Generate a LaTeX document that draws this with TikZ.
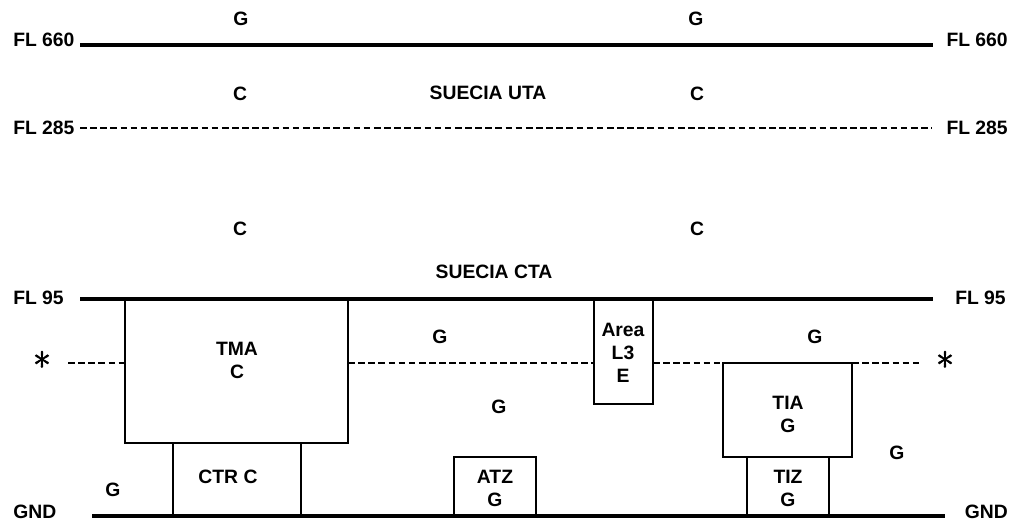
\documentclass[tikz,border=0pt]{standalone}
\usepackage{fontspec}
\setmainfont{Liberation Sans}
\newfontfamily\astfont[FakeBold=2.5]{Latin Modern Roman}
\tikzset{
  lvl/.style={line width=2.6pt},
  lvldash/.style={line width=0.9pt, dash pattern=on 5pt off 2.6pt},
  zone/.style={draw, line width=1.1pt},
  lab/.style={font=\bfseries\fontsize{14.5}{17.25}\selectfont, align=center, inner sep=0pt},
  star/.style={font=\astfont\fontsize{28}{30}\selectfont, inner sep=0pt, anchor=north},
}

\begin{document}
\begin{tikzpicture}[x=0.75pt,y=-0.75pt]
\useasboundingbox (0,0) rectangle (1012,521);

% flight levels
\node[lab, anchor=west] (fl660l) at (13,40) {FL 660};
\node[lab, anchor=east] (fl660r) at (1008,40) {FL 660};
\node[lab, anchor=west] (fl285l) at (13,128) {FL 285};
\node[lab, anchor=east] (fl285r) at (1008,128) {FL 285};
\node[lab, anchor=west] (fl95l) at (13,298) {FL 95};
\node[lab, anchor=east] (fl95r) at (1006,298) {FL 95};
\node[lab, anchor=west] (gndl) at (13,512) {GND};
\node[lab, anchor=east] (gndr) at (1008,512) {GND};
\node[star] (astl) at (42,351) {*};
\node[star] (astr) at (945,351) {*};

\draw[lvl] (80,45) -- (933,45);
\draw[lvldash] (80,128) -- (932,128);
\draw[lvl] (80,299) -- (933,299);
\draw[lvl] (92,516) -- (945,516);

\draw[lvldash] (68,363) -- (125,363);
\draw[lvldash] (348,363) -- (594,363);
\draw[lvldash] (653,363) -- (723,363);
\draw[lvldash] (852,363) -- (920,363);

% zones
\draw[zone] (125,299) rectangle (348,443);
\draw[zone] (173,443) rectangle (301,516);
\draw[zone] (594,299) rectangle (653,404);
\draw[zone] (454,457) rectangle (536,516);
\draw[zone] (723,363) rectangle (852,457);
\draw[zone] (747,457) rectangle (829,516);

% airspace classes
\node[lab] (g1) at (241,19) {G};
\node[lab] (g2) at (696,19) {G};
\node[lab] (c1) at (240,94) {C};
\node[lab] (c2) at (697,94) {C};
\node[lab] (uta) at (488,93) {SUECIA UTA};
\node[lab] (c3) at (240,229) {C};
\node[lab] (c4) at (697,229) {C};
\node[lab] (cta) at (494,272) {SUECIA CTA};
\node[lab] (tma) at (237,360) {TMA\\C};
\node[lab] (ctr) at (228,477) {CTR C};
\node[lab] (g3) at (113,490) {G};
\node[lab] (g4) at (440,337) {G};
\node[lab] (g5) at (499,407) {G};
\node[lab] (area) at (623,353) {Area\\L3\\E};
\node[lab] (atz) at (495,488) {ATZ\\G};
\node[lab] (g6) at (815,337) {G};
\node[lab] (tia) at (788,414) {TIA\\G};
\node[lab] (g7) at (897,453) {G};
\node[lab] (tiz) at (788,488) {TIZ\\G};
\end{tikzpicture}
\end{document}
